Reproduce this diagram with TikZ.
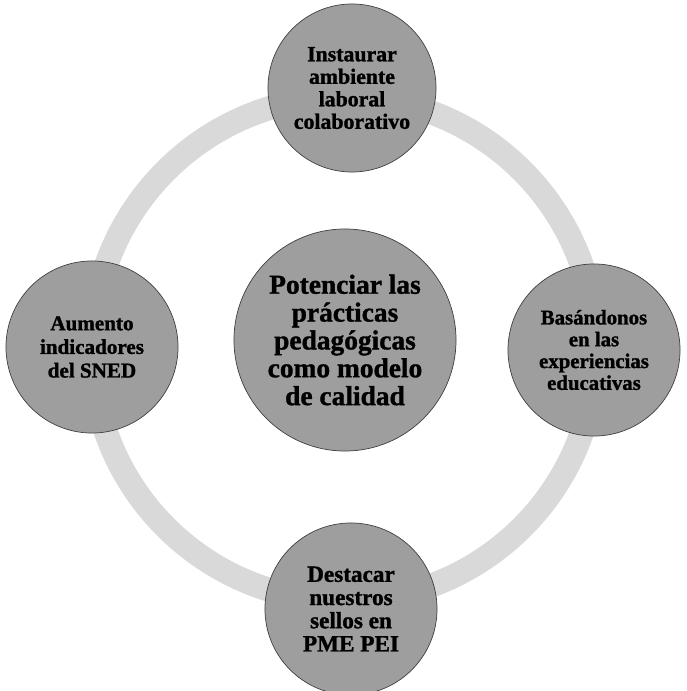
\documentclass[tikz,border=0pt]{standalone}
\usepackage{fontspec}
\setmainfont{Liberation Serif}
\newfontfamily\heavy[FakeBold=1.3]{Liberation Serif}
\tikzset{
  bubble/.style={circle, draw=black!75, line width=.5pt, fill=black!38, align=center, inner sep=0pt},
  ring/.style={draw=black!15, line width=.6cm}
}
\newcommand{\sz}[2]{\heavy\bfseries\fontsize{#1}{#2}\selectfont}
\begin{document}
\begin{tikzpicture}[x=0.025cm,y=-0.025cm]
\useasboundingbox (0,0) rectangle (686,691);
% ring behind the bubbles
\coordinate (mid) at (344,349);
\draw[ring] (mid) circle [radius=6.3cm];
% centre
\node[bubble, minimum size=5.55cm, font=\sz{19.5}{19.8}] (core) at (345,340) {Potenciar las\\prácticas\\pedagógicas\\como modelo\\de calidad};
% the four around it
\node[bubble, minimum size=4.2cm, font=\sz{15.5}{16}] (top) at (352,88) {Instaurar\\ambiente\\laboral\\colaborativo};
\node[bubble, minimum size=4.3cm, font=\sz{14.8}{15.5}] (right) at (594,350) {Basándonos\\en las\\experiencias\\educativas};
\node[bubble, minimum size=4.3cm, font=\sz{16.5}{16.5}] (bottom) at (351,609) {Destacar\\nuestros\\sellos en\\PME PEI};
\node[bubble, minimum size=4.3cm, font=\sz{15}{16.8}] (left) at (92,347) {Aumento\\indicadores\\del SNED};
\end{tikzpicture}
\end{document}
